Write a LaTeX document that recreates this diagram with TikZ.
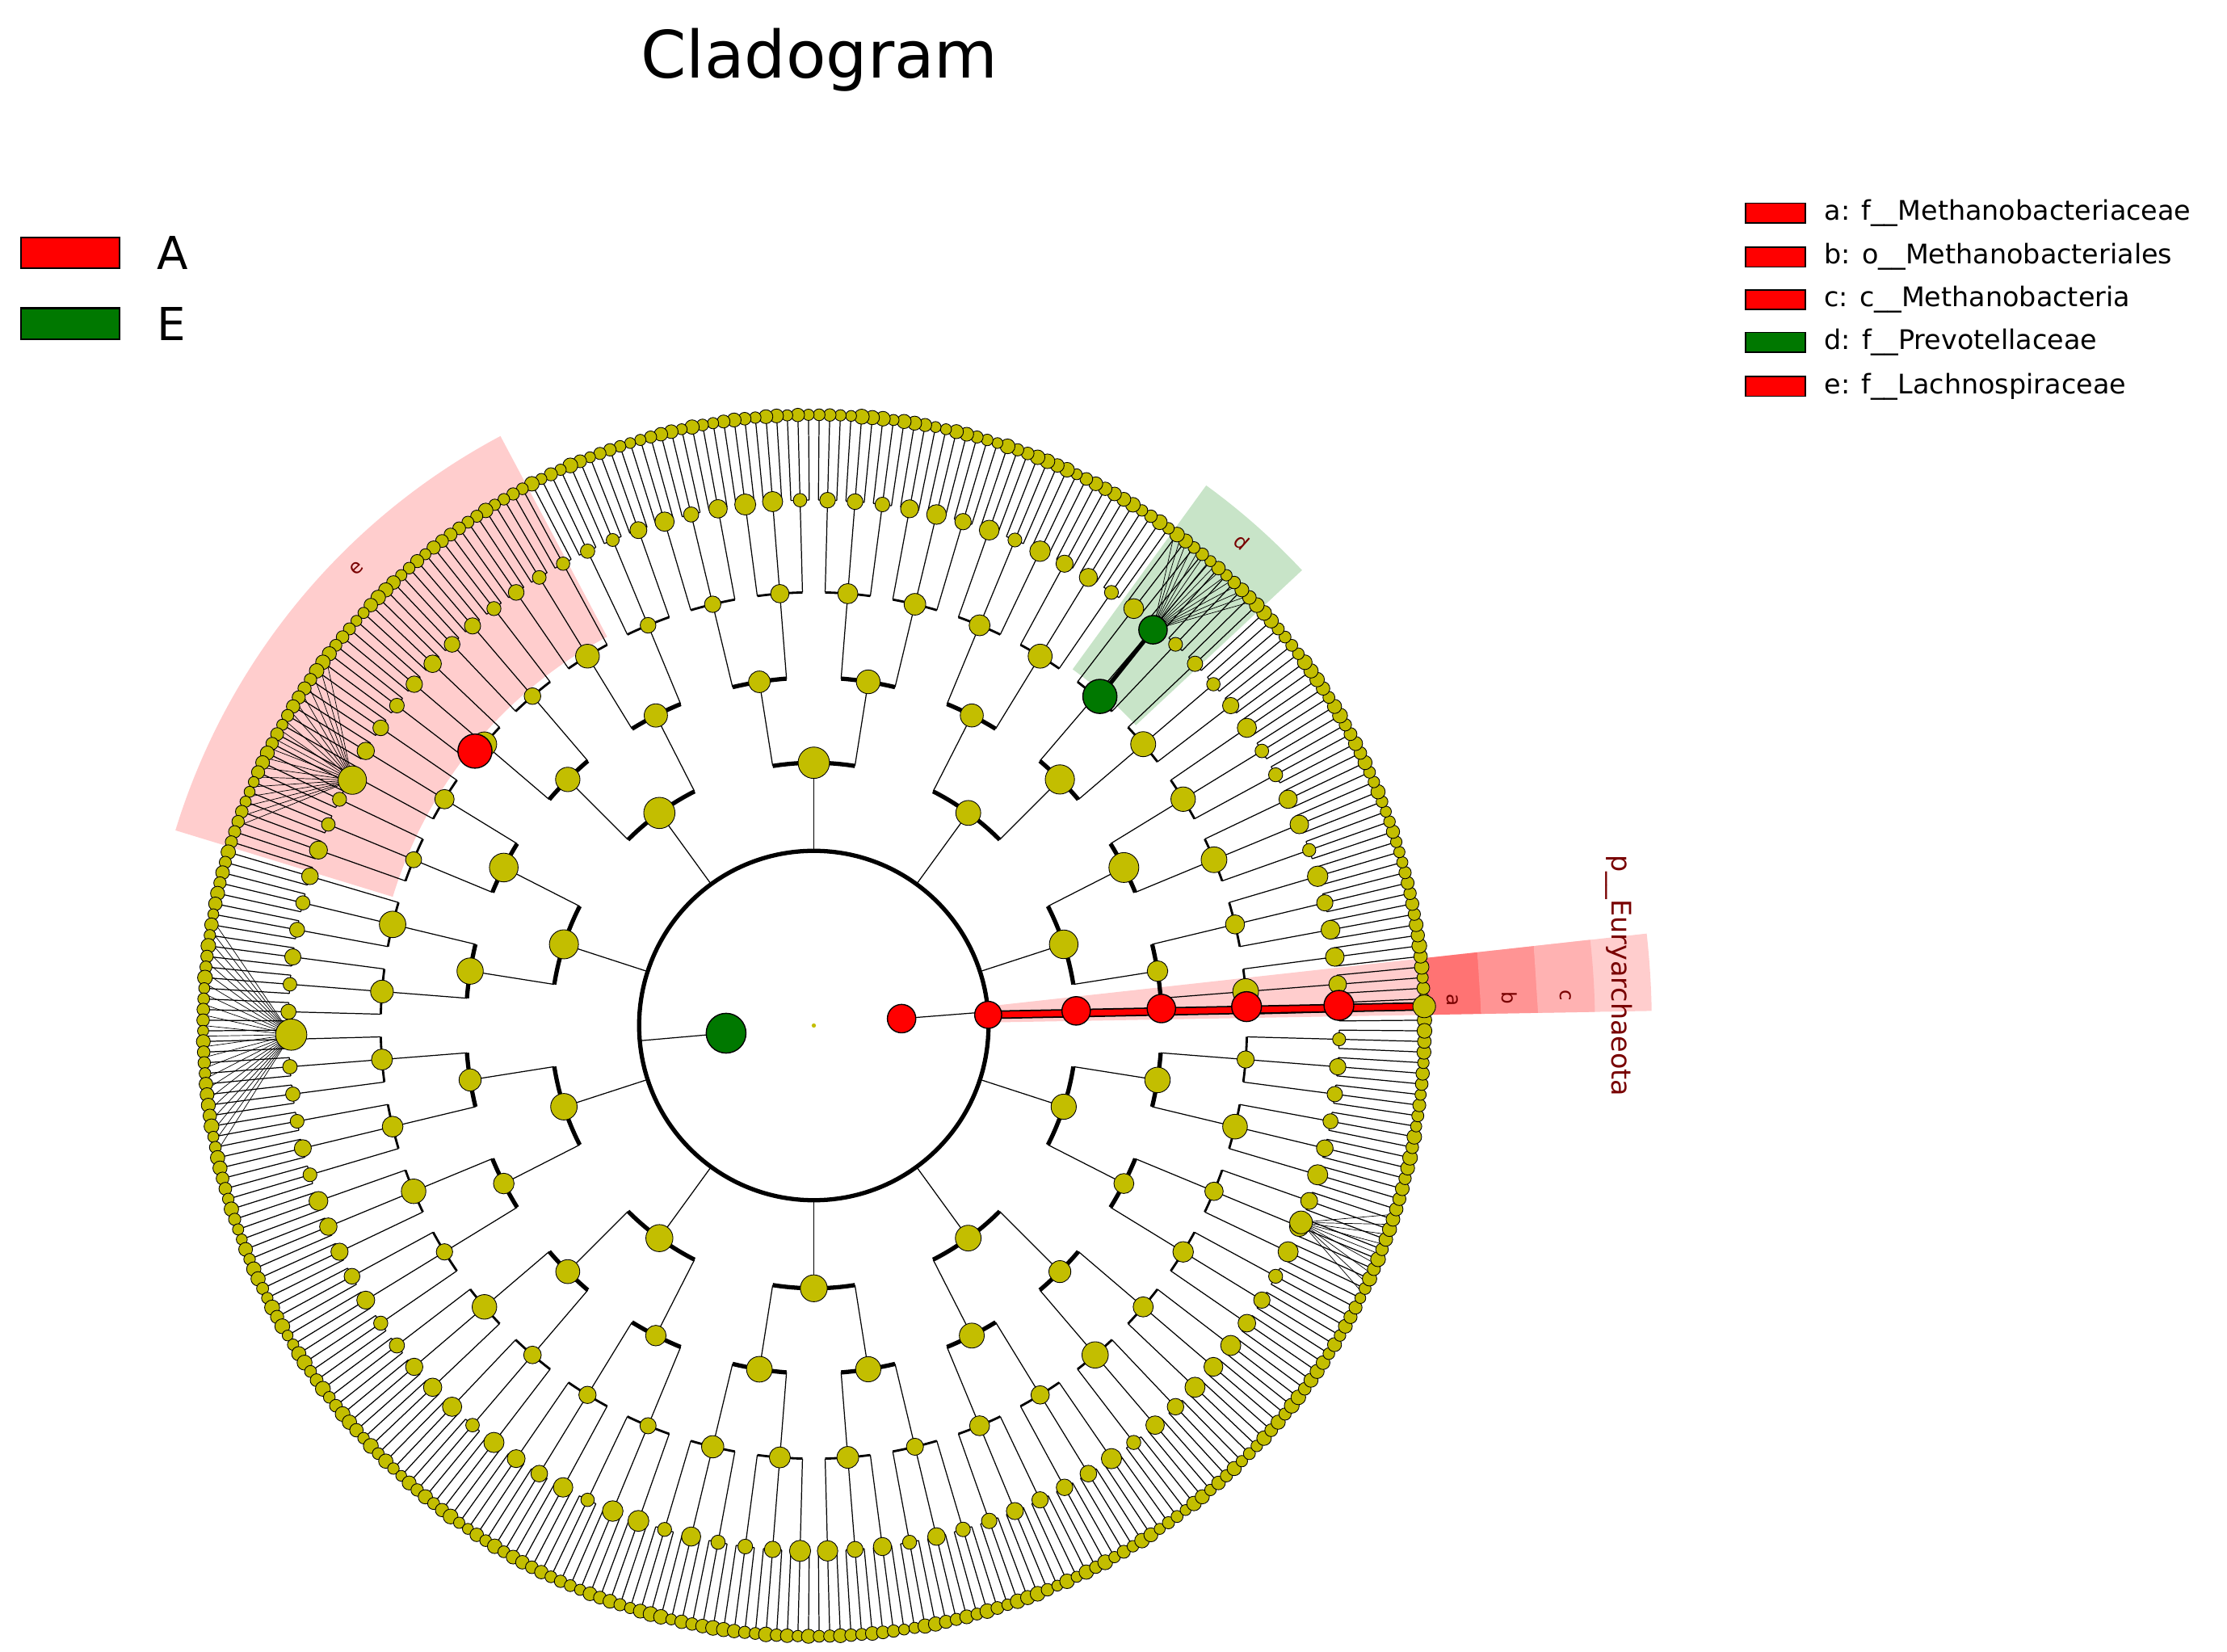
\documentclass[tikz,border=0pt]{standalone}
\usepackage{fontspec}
\setmainfont{DejaVu Sans}
\definecolor{yel}{RGB}{195,190,0}
\definecolor{gr}{RGB}{0,120,0}
\definecolor{dred}{RGB}{120,0,0}
\definecolor{lpink}{RGB}{255,205,205}
\definecolor{lgreen}{RGB}{200,228,200}
\begin{document}
\begin{tikzpicture}[x=1pt,y=1pt,
  yn/.style={fill=yel,draw=black,line width=0.5pt},
  rn/.style={fill=red,draw=black,line width=0.8pt},
  gn/.style={fill=gr,draw=black,line width=0.8pt},
  br/.style={line width=0.7pt},
  thk/.style={line width=3pt},
  wl/.style={font=\fontsize{14}{16}\selectfont,text=dred},
  leg/.style={font=\fontsize{19}{22}\selectfont,anchor=west}]
\useasboundingbox (-573,-441) rectangle (995,722);
% wedges
\fill[lpink] (118:310) arc[start angle=118,end angle=163,radius=310] -- (163:470) arc[start angle=163,end angle=118,radius=470] -- cycle;
\fill[lgreen] (43:310) arc[start angle=43,end angle=54,radius=310] -- (54:470) arc[start angle=54,end angle=43,radius=470] -- cycle;
\fill[lpink] (1:123) -- (1:590) arc[start angle=1,end angle=6.3,radius=590] -- (6.3:123) -- cycle;
\fill[red!55] (1:430) -- (1:470) arc[start angle=1,end angle=6.3,radius=470] -- (6.3:430) -- cycle;
\fill[red!42] (1:470) -- (1:510) arc[start angle=1,end angle=6.3,radius=510] -- (6.3:470) -- cycle;
\fill[red!30] (1:510) -- (1:550) arc[start angle=1,end angle=6.3,radius=550] -- (6.3:510) -- cycle;
\node[wl,rotate=43] (le) at (135:455) {e};
\node[wl,rotate=-41.5] (ld) at (48.5:455) {d};
\node[wl,rotate=-90] (la) at (2.3:450) {a};
\node[wl,rotate=-90] (lb) at (2.3:490) {b};
\node[wl,rotate=-90] (lc) at (2.3:530) {c};
\node[font=\fontsize{19}{22}\selectfont,text=dred,rotate=-90] (pe) at (567,35) {p\_\_Euryarchaeota};
% branches
\foreach \i in {0,...,359}{\pgfmathsetmacro\a{\i+0.5}\draw[br] (\a:370) -- (\a:430);}
\foreach \j in {0,...,119}{\pgfmathsetmacro\a{\j*3+1.5}
  \draw[br] (\j*3+0.5:370) arc[start angle=\j*3+0.5,end angle=\j*3+2.5,radius=370];
  \draw[br] (\a:305) -- (\a:370);}
\foreach \k in {0,...,39}{\pgfmathsetmacro\a{\k*9+4.5}
  \draw[line width=1.6pt] (\k*9+1.5:305) arc[start angle=\k*9+1.5,end angle=\k*9+7.5,radius=305];
  \draw[br] (\a:245) -- (\a:305);}
\foreach \m in {0,...,19}{\pgfmathsetmacro\a{\m*18+9}
  \draw[thk] (\m*18+4.5:245) arc[start angle=\m*18+4.5,end angle=\m*18+13.5,radius=245];
  \draw[br] (\a:185) -- (\a:245);}
\foreach \n in {0,...,9}{\pgfmathsetmacro\a{\n*36+18}
  \draw[thk] (\n*36+9:185) arc[start angle=\n*36+9,end angle=\n*36+27,radius=185];
  \draw[br] (\a:123) -- (\a:185);}
\draw[thk] (0,0) circle[radius=123];
\draw[br] (185:62) -- (185:123);
\draw[br] (4.5:62) -- (4.5:123);
% fans
\foreach \t in {143,144,...,161}{\draw[line width=0.4pt] (152:368) -- (\t:430);}
\foreach \t in {170,171,...,192}{\draw[line width=0.4pt] (181:368) -- (\t:430);}
\foreach \t in {44,44.7,...,54}{\draw[line width=0.4pt] (49.4:367) -- (\t:430);}
\foreach \t in {-26,-25,...,-18}{\draw[line width=0.4pt] (-22:370) -- (\t:430);}
% nodes
\pgfmathsetseed{7}
\foreach \i in {0,...,359}{\pgfmathsetmacro\a{\i+0.5}\pgfmathsetmacro\s{3.8+1.5*rnd}\fill[yn] (\a:430) circle[radius=\s];}
\foreach \j in {0,...,119}{\pgfmathsetmacro\a{\j*3+1.5}\pgfmathsetmacro\s{4.5+3*rnd}\fill[yn] (\a:370) circle[radius=\s];}
\foreach \k in {0,...,39}{\pgfmathsetmacro\a{\k*9+4.5}\pgfmathsetmacro\s{5.5+4*rnd}\fill[yn] (\a:305) circle[radius=\s];}
\foreach \m in {0,...,19}{\pgfmathsetmacro\a{\m*18+9}\pgfmathsetmacro\s{7+4*rnd}\fill[yn] (\a:245) circle[radius=\s];}
\foreach \n in {0,...,9}{\pgfmathsetmacro\a{\n*36+18}\pgfmathsetmacro\s{8+4*rnd}\fill[yn] (\a:185) circle[radius=\s];}
\fill[yn] (152:368) circle[radius=10];
\fill[yn] (181:368) circle[radius=11];
\fill[yn] (-22:370) circle[radius=8];
\fill[yel] (0,0) circle[radius=1.5];
% red clade
\draw[line width=6pt] (3.5:123) -- (1.8:430);
\draw[line width=4pt,red] (3.5:123) -- (1.8:430);
\node[circle,rn,minimum size=20pt,inner sep=0] (r1) at (4.5:62) {};
\node[circle,rn,minimum size=19pt,inner sep=0] (r2) at (3.5:123) {};
\node[circle,rn,minimum size=20pt,inner sep=0] (r3) at (3.2:185) {};
\node[circle,rn,minimum size=20pt,inner sep=0] (r4) at (2.8:245) {};
\node[circle,rn,minimum size=21pt,inner sep=0] (r5) at (2.5:305) {};
\node[circle,rn,minimum size=21pt,inner sep=0] (r6) at (2.2:370) {};
\node[circle,yn,minimum size=16pt,inner sep=0] (r7) at (1.8:430) {};
% green & e
\draw[line width=3pt] (49:307) -- (49.4:367);
\node[circle,gn,minimum size=28pt,inner sep=0] (g1) at (185:62) {};
\node[circle,gn,minimum size=24pt,inner sep=0] (g2) at (49:307) {};
\node[circle,gn,minimum size=20pt,inner sep=0] (g3) at (49.4:367) {};
\node[circle,rn,minimum size=24pt,inner sep=0] (e1) at (141:307) {};
% title & legends
\node[font=\fontsize{46}{54}\selectfont] (title) at (4,680) {Cladogram};
\draw[fill=red,line width=1.2pt] (-558,533) rectangle (-489,555);
\draw[fill=gr,line width=1.2pt] (-558,483) rectangle (-489,505);
\node[font=\fontsize{32}{36}\selectfont,anchor=west] (lA) at (-466,544) {A};
\node[font=\fontsize{32}{36}\selectfont,anchor=west] (lE) at (-466,494) {E};
\foreach \y/\c/\t in {572/red/{a: f\_\_Methanobacteriaceae},541/red/{b: o\_\_Methanobacteriales},511/red/{c: c\_\_Methanobacteria},481/gr/{d: f\_\_Prevotellaceae},450/red/{e: f\_\_Lachnospiraceae}}{
  \draw[fill=\c,line width=1pt] (656,\y-7) rectangle (698,\y+7);
  \node[leg] at (708,\y) {\t};}
\end{tikzpicture}
\end{document}
